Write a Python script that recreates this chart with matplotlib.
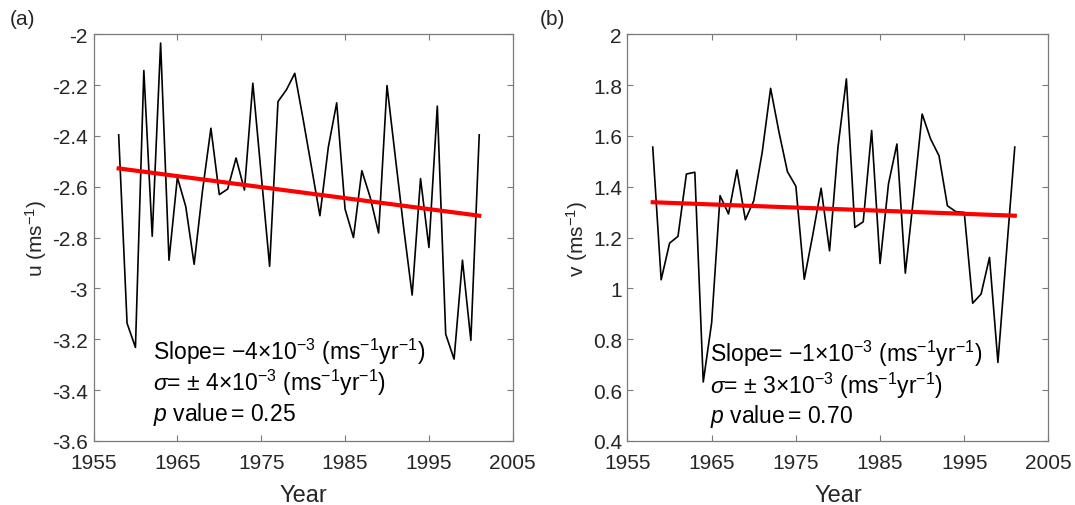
import numpy as np
import matplotlib
matplotlib.use("Agg")
import matplotlib.pyplot as plt
from matplotlib.ticker import FuncFormatter

plt.rcParams["font.family"] = ["Liberation Sans", "DejaVu Sans"]
plt.rcParams["mathtext.fontset"] = "custom"
plt.rcParams["mathtext.rm"] = "Liberation Sans"
plt.rcParams["mathtext.it"] = "Liberation Sans:italic"
plt.rcParams["axes.unicode_minus"] = False

years = list(range(1958, 2002))

u_values = [
    -2.396, -3.137, -3.232, -2.143, -2.795, -2.035, -2.889, -2.563, -2.678, -2.905,
    -2.615, -2.370, -2.631, -2.609, -2.487, -2.613, -2.193, -2.553, -2.913, -2.265,
    -2.219, -2.154, -2.335, -2.524, -2.714, -2.445, -2.270, -2.688, -2.800, -2.537,
    -2.642, -2.782, -2.202, -2.485, -2.765, -3.026, -2.568, -2.839, -2.283, -3.180,
    -3.278, -2.889, -3.204, -2.396,
]

v_values = [
    1.556, 1.034, 1.178, 1.205, 1.450, 1.457, 0.632, 0.866, 1.365, 1.293,
    1.466, 1.270, 1.345, 1.535, 1.787, 1.614, 1.459, 1.402, 1.036, 1.209,
    1.394, 1.148, 1.555, 1.824, 1.240, 1.262, 1.621, 1.098, 1.411, 1.568,
    1.060, 1.365, 1.686, 1.588, 1.522, 1.325, 1.302, 1.299, 0.942, 0.978,
    1.122, 0.709, 1.134, 1.556,
]

trend_years = [1958, 2001]
u_trend = [-2.528, -2.714]
v_trend = [1.339, 1.286]

u_notes = [
    r"Slope= $-4{\times}10^{-3}$ (ms$^{-1}$yr$^{-1}$)",
    r"$\sigma$= $\pm$ 4$\times$10$^{-3}$ (ms$^{-1}$yr$^{-1}$)",
    r"$p$ value$\,$= 0.25",
]
v_notes = [
    r"Slope= $-1{\times}10^{-3}$ (ms$^{-1}$yr$^{-1}$)",
    r"$\sigma$= $\pm$ 3$\times$10$^{-3}$ (ms$^{-1}$yr$^{-1}$)",
    r"$p$ value$\,$= 0.70",
]

x_ticks = [1955, 1965, 1975, 1985, 1995, 2005]
u_ticks = [-3.6, -3.4, -3.2, -3.0, -2.8, -2.6, -2.4, -2.2, -2.0]
v_ticks = [0.4, 0.6, 0.8, 1.0, 1.2, 1.4, 1.6, 1.8, 2.0]

TEXT = "#262626"
SPINE = "#7a7a7a"


def style_axes(ax, yticks, ylabel):
    ax.set_xlim(1955, 2005)
    ax.set_ylim(yticks[0], yticks[-1])
    ax.set_xticks(x_ticks)
    ax.set_yticks(yticks)
    ax.yaxis.set_major_formatter(FuncFormatter(lambda v, p: f"{v:g}"))
    ax.tick_params(direction="in", top=True, right=True, length=4,
                   width=0.8, color=SPINE, labelsize=15, labelcolor=TEXT)
    ax.tick_params(axis="x", pad=9)
    ax.tick_params(axis="y", pad=4)
    for s in ax.spines.values():
        s.set_color(SPINE)
        s.set_linewidth(0.9)
    ax.set_xlabel("Year", fontsize=17, color=TEXT, labelpad=8)
    ax.set_ylabel(ylabel, fontsize=15, color=TEXT, labelpad=2)


fig = plt.figure(figsize=(10.75, 5.06), dpi=100)
ax_u = fig.add_axes([0.087, 0.1265, 0.390, 0.804])
ax_v = fig.add_axes([0.5837, 0.1265, 0.3916, 0.804])

ax_u.plot(years, u_values, color="black", lw=1.2)
ax_u.plot(trend_years, u_trend, color="#ff0000", lw=3)
style_axes(ax_u, u_ticks, r"u (ms$^{-1}$)")

ax_v.plot(years, v_values, color="black", lw=1.2)
ax_v.plot(trend_years, v_trend, color="#ff0000", lw=3)
style_axes(ax_v, v_ticks, r"v (ms$^{-1}$)")

for ax, notes, x0, y0 in [(ax_u, u_notes, 0.141, 0.222), (ax_v, v_notes, 0.196, 0.216)]:
    for k, line in enumerate(notes):
        ax.text(x0, y0 - k * 0.077, line, transform=ax.transAxes,
                fontsize=16.5, color="black", va="center", ha="left")

fig.text(0.009, 0.962, "(a)", fontsize=15, color=TEXT, va="center")
fig.text(0.502, 0.962, "(b)", fontsize=15, color=TEXT, va="center")

fig.savefig("out.png", dpi=100, facecolor="white")
